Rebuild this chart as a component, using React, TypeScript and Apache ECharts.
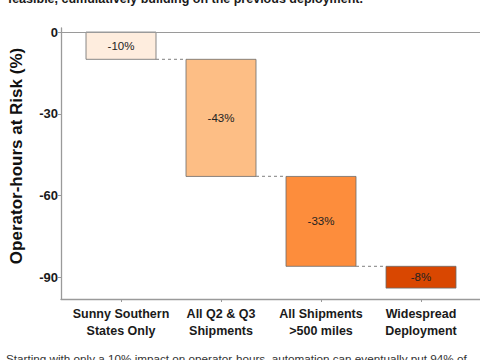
import React, { useEffect, useRef } from "react";
import * as echarts from "echarts";

const categories = ["Sunny Southern\nStates Only", "All Q2 & Q3\nShipments", "All Shipments\n>500 miles", "Widespread\nDeployment"];
const changes = [-10, -43, -33, -8];
const barColors = ["#FEEDDE", "#FDBE85", "#FD8D3C", "#D94701"];
const yTicks = [0, -30, -60, -90];
const topText = "feasible, cumulatively building on the previous deployment.";
const bottomText = "Starting with only a 10% impact on operator-hours, automation can eventually put 94% of";
const yTitle = "Operator-hours at Risk (%)";

export default function App() {
  const ref = useRef<HTMLDivElement>(null);
  useEffect(() => {
    if (!ref.current) return;
    const chart = echarts.init(ref.current, undefined, { renderer: "svg" });
    let cum = 0;
    const data = changes.map((v, i) => {
      const s = cum;
      cum += v;
      return [i, s, cum, v];
    });
    const font = "'Liberation Sans', Arial, Helvetica, sans-serif";
    chart.setOption({
      animation: false,
      textStyle: { fontFamily: font },
      grid: { left: 61, width: 419, top: 28, bottom: 61, containLabel: false },
      xAxis: {
        type: "value",
        min: -0.6,
        max: 3.59,
        splitLine: { show: false },
        axisLine: { show: true, onZero: false, lineStyle: { color: "#9a9a9a", width: 1.3 } },
        axisTick: { show: true, length: 3, customValues: [0, 1, 2, 3], lineStyle: { color: "#9a9a9a" } },
        axisLabel: {
          customValues: [0, 1, 2, 3],
          formatter: (v: number) => categories[Math.round(v)] ?? "",
          fontSize: 12.5,
          fontWeight: "bold",
          color: "#1a1a1a",
          lineHeight: 17,
          margin: 6,
          fontFamily: font,
        },
      },
      yAxis: {
        type: "value",
        min: -98,
        max: 1.5,
        splitLine: { show: false },
        axisLine: { show: true, onZero: false, lineStyle: { color: "#9a9a9a", width: 1.3 } },
        axisTick: { show: true, length: 3, customValues: yTicks, lineStyle: { color: "#9a9a9a" } },
        axisLabel: {
          customValues: yTicks,
          fontSize: 13,
          fontWeight: "bold",
          color: "#1a1a1a",
          margin: 3,
          fontFamily: font,
        },
      },
      graphic: [
        {
          type: "text",
          x: 8,
          y: -8,
          style: { text: topText, fontSize: 12.5, fontWeight: "bold", fill: "#1a1a1a", fontFamily: font },
        },
        {
          type: "text",
          x: 6,
          y: 352,
          style: { text: bottomText, fontSize: 11.7, fill: "#333", fontFamily: font },
        },
        {
          type: "text",
          x: 16,
          y: 156,
          rotation: Math.PI / 2,
          style: {
            text: yTitle,
            fontSize: 17,
            fontWeight: "bold",
            fill: "#111",
            align: "center",
            verticalAlign: "middle",
            fontFamily: font,
          },
        },
      ],
      series: [
        {
          type: "custom",
          encode: { x: 0, y: [1, 2] },
          data,
          markLine: {
            silent: true,
            symbol: "none",
            label: { show: false },
            lineStyle: { color: "#9a9a9a", type: "solid", width: 1.2 },
            data: [{ yAxis: 0 }],
          },
          renderItem: (params: any, api: any) => {
            const i = api.value(0);
            const s = api.value(1);
            const e = api.value(2);
            const v = api.value(3);
            const p1 = api.coord([i - 0.35, s]);
            const p2 = api.coord([i + 0.35, e]);
            const children: any[] = [
              {
                type: "rect",
                shape: { x: p1[0], y: p1[1], width: p2[0] - p1[0], height: p2[1] - p1[1] },
                style: { fill: barColors[i], stroke: "#6b6b6b", lineWidth: 0.8 },
              },
              {
                type: "text",
                x: (p1[0] + p2[0]) / 2,
                y: (p1[1] + p2[1]) / 2,
                style: {
                  text: `${v}%`,
                  fontSize: 11.5,
                  fill: "#222",
                  align: "center",
                  verticalAlign: "middle",
                  fontFamily: font,
                },
              },
            ];
            if (i < changes.length - 1) {
              const a = api.coord([i + 0.35, e]);
              const b = api.coord([i + 0.65, e]);
              children.push({
                type: "line",
                shape: { x1: a[0], y1: a[1], x2: b[0], y2: b[1] },
                style: { stroke: "#999", lineWidth: 1.2, lineDash: [3, 3] },
              });
            }
            return { type: "group", children };
          },
        },
      ],
    });
    return () => chart.dispose();
  }, []);
  return (
    <div
      ref={ref}
      style={{ position: "fixed", left: 0, top: 0, width: 480, height: 360, background: "#fff" }}
    />
  );
}
